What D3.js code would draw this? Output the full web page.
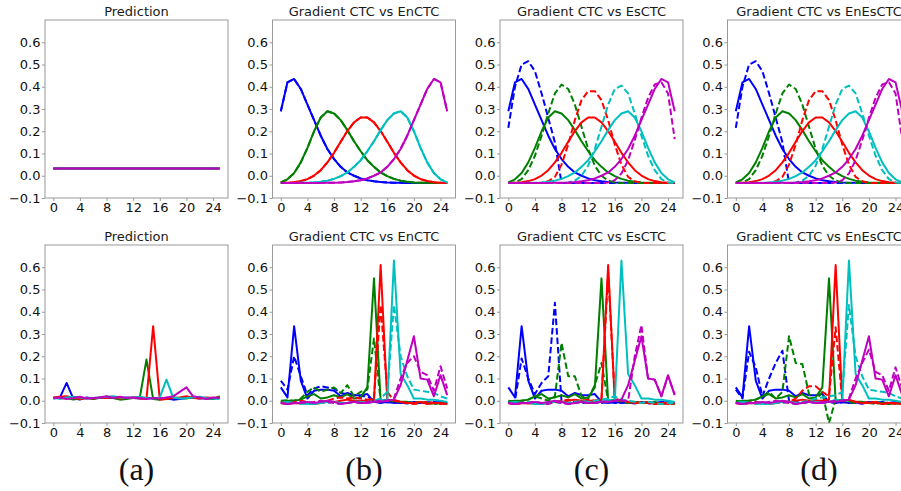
<!DOCTYPE html>
<html>
<head>
<meta charset="utf-8">
<script src="https://cdn.jsdelivr.net/npm/d3@7"></script>
<style>
  body { margin: 0; background: #fff; }
</style>
</head>
<body>
<script>
// time steps and series colours (order: blue, green, red, cyan, magenta)
var steps = [0, 1, 2, 3, 4, 5, 6, 7, 8, 9, 10, 11, 12, 13, 14, 15, 16, 17, 18, 19, 20, 21, 22, 23, 24, 25];
var colors = ['#0000ff', '#008000', '#ff0000', '#00bfbf', '#bf00bf'];
var titles = ['Prediction', 'Gradient CTC vs EnCTC', 'Gradient CTC vs EsCTC', 'Gradient CTC vs EnEsCTC'];
var captions = ['(a)', '(b)', '(c)', '(d)'];
var yTicks = [-0.1, 0, 0.1, 0.2, 0.3, 0.4, 0.5, 0.6];
var xTicks = [0, 4, 8, 12, 16, 20, 24];

// top row: uniform prediction
var topPredLevel = [0.033, 0.033, 0.033, 0.033, 0.033, 0.033, 0.033, 0.033, 0.033, 0.033, 0.033, 0.033, 0.033,
  0.033, 0.033, 0.033, 0.033, 0.033, 0.033, 0.033, 0.033, 0.033, 0.033, 0.033, 0.033, 0.033];

// top row: CTC gradient (solid, also equal to EnCTC)
var topCtc = [
  [0.29, 0.42, 0.435, 0.39, 0.32, 0.25, 0.18, 0.12, 0.075, 0.04, 0.015, 0.0, -0.012, -0.02, -0.025, -0.028, -0.03, -0.031, -0.032, -0.033, -0.033, -0.033, -0.033, -0.033, -0.033, -0.033],
  [-0.03, -0.016, 0.012, 0.06, 0.125, 0.2, 0.262, 0.29, 0.28, 0.25, 0.205, 0.155, 0.11, 0.07, 0.04, 0.015, -0.002, -0.014, -0.022, -0.027, -0.03, -0.031, -0.032, -0.033, -0.033, -0.033],
  [-0.033, -0.031, -0.029, -0.024, -0.015, 0.001, 0.025, 0.06, 0.103, 0.153, 0.201, 0.24, 0.262, 0.262, 0.24, 0.201, 0.153, 0.103, 0.06, 0.025, 0.001, -0.015, -0.024, -0.029, -0.031, -0.033],
  [-0.033, -0.033, -0.033, -0.032, -0.031, -0.03, -0.027, -0.022, -0.014, -0.002, 0.015, 0.04, 0.07, 0.11, 0.155, 0.205, 0.25, 0.28, 0.29, 0.262, 0.2, 0.125, 0.06, 0.012, -0.016, -0.03],
  [-0.033, -0.033, -0.033, -0.033, -0.033, -0.033, -0.033, -0.032, -0.031, -0.03, -0.028, -0.025, -0.02, -0.012, 0.0, 0.015, 0.04, 0.075, 0.12, 0.18, 0.25, 0.32, 0.39, 0.435, 0.42, 0.29]
];

// top row: EsCTC / EnEsCTC gradient (dashed)
var topEs = [
  [0.215, 0.4, 0.5, 0.515, 0.47, 0.37, 0.26, 0.15, -0.033, -0.033, -0.033, -0.033, -0.033, -0.033, -0.033, -0.033, -0.033, -0.033, -0.033, -0.033, -0.033, -0.033, -0.033, -0.033, -0.033, -0.033],
  [-0.033, -0.03, -0.015, 0.025, 0.09, 0.18, 0.28, 0.37, 0.41, 0.39, 0.32, 0.22, 0.12, 0.045, 0.0, -0.022, -0.03, -0.033, -0.033, -0.033, -0.033, -0.033, -0.033, -0.033, -0.033, -0.033],
  [-0.033, -0.033, -0.033, -0.033, -0.033, -0.032, -0.025, -0.005, 0.05, 0.14, 0.25, 0.34, 0.38, 0.38, 0.34, 0.25, 0.14, 0.05, -0.005, -0.025, -0.032, -0.033, -0.033, -0.033, -0.033, -0.033],
  [-0.033, -0.033, -0.033, -0.033, -0.033, -0.033, -0.033, -0.033, -0.033, -0.03, -0.022, 0.0, 0.045, 0.12, 0.22, 0.32, 0.39, 0.405, 0.37, 0.28, 0.18, 0.09, 0.025, -0.015, -0.03, -0.033],
  [-0.033, -0.033, -0.033, -0.033, -0.033, -0.033, -0.033, -0.033, -0.033, -0.033, -0.033, -0.033, -0.033, -0.033, -0.033, -0.03, -0.02, 0.01, 0.07, 0.16, 0.26, 0.35, 0.41, 0.42, 0.37, 0.165]
];

// bottom row: network prediction
var bottomPred = [
  [0.01, 0.015, 0.08, 0.01, 0.005, 0.015, 0.01, 0.012, 0.015, 0.012, 0.01, 0.015, 0.012, 0.01, 0.012, 0.01, 0.012, 0.01, 0.005, 0.008, 0.012, 0.015, 0.01, 0.012, 0.01, 0.012],
  [0.015, 0.01, 0.012, 0.005, 0.01, 0.012, 0.008, 0.015, 0.018, 0.012, 0.005, 0.008, 0.012, 0.015, 0.185, 0.008, 0.005, 0.01, 0.015, 0.012, 0.01, 0.018, 0.012, 0.01, 0.008, 0.02],
  [0.015, 0.018, 0.02, 0.012, 0.008, 0.012, 0.01, 0.015, 0.012, 0.018, 0.01, 0.012, 0.015, 0.01, 0.008, 0.335, 0.005, 0.008, 0.012, 0.015, 0.02, 0.012, 0.01, 0.015, 0.012, 0.015],
  [0.012, 0.01, 0.015, 0.018, 0.015, 0.01, 0.012, 0.015, 0.018, 0.02, 0.015, 0.012, 0.015, 0.018, 0.012, 0.01, 0.015, 0.095, 0.015, 0.01, 0.012, 0.015, 0.018, 0.012, 0.01, 0.008],
  [0.012, 0.015, 0.008, 0.012, 0.018, 0.01, 0.012, 0.015, 0.02, 0.012, 0.018, 0.012, 0.015, 0.012, 0.008, 0.012, 0.01, 0.015, 0.02, 0.04, 0.06, 0.02, 0.015, 0.008, 0.015, 0.012]
];

// bottom row: CTC gradient (solid)
var bottomCtc = [
  [0.06, 0.015, 0.335, 0.09, 0.01, 0.045, 0.05, 0.05, 0.045, 0.02, 0.035, 0.025, 0.025, 0.03, -0.005, -0.01, -0.005, -0.01, -0.008, -0.012, -0.005, -0.01, -0.008, -0.01, -0.005, -0.01],
  [-0.005, 0.0, 0.0, 0.005, 0.02, 0.03, 0.01, 0.015, 0.025, 0.015, 0.03, 0.01, 0.015, 0.06, 0.55, 0.0, 0.005, 0.0, -0.005, -0.005, -0.01, -0.005, -0.01, -0.012, -0.01, -0.015],
  [-0.01, -0.015, -0.01, -0.012, -0.01, -0.015, -0.01, -0.005, -0.005, 0.0, 0.005, 0.0, 0.0, 0.0, 0.005, 0.61, 0.0, 0.005, -0.005, -0.01, -0.01, -0.005, -0.015, -0.01, -0.01, -0.015],
  [-0.01, -0.005, -0.01, -0.01, -0.015, -0.015, -0.01, -0.005, -0.005, -0.01, -0.01, -0.005, -0.005, -0.01, -0.005, 0.005, 0.0, 0.63, 0.12, 0.07, 0.01, 0.01, 0.005, 0.005, 0.0, -0.005],
  [-0.01, -0.015, -0.01, -0.01, -0.005, -0.01, -0.005, 0.0, -0.005, -0.015, -0.01, -0.005, -0.01, -0.01, -0.005, -0.005, 0.0, 0.005, 0.07, 0.18, 0.29, 0.1, 0.095, 0.02, 0.115, 0.025]
];

// bottom row: EnCTC gradient (dashed)
var bottomEn = [
  [0.09, 0.05, 0.2, 0.11, 0.025, 0.055, 0.065, 0.06, 0.055, 0.035, 0.03, 0.025, 0.02, 0.02, 0.0, -0.005, -0.008, -0.005, -0.01, -0.008, -0.005, -0.01, -0.008, -0.005, -0.01, -0.008],
  [0.0, 0.002, 0.0, 0.01, 0.04, 0.06, 0.04, 0.05, 0.06, 0.035, 0.07, 0.02, 0.04, 0.05, 0.28, 0.0, 0.005, -0.005, -0.005, -0.01, -0.01, -0.005, -0.01, -0.015, -0.01, -0.015],
  [-0.005, -0.01, -0.005, 0.0, -0.005, -0.01, -0.005, 0.0, 0.01, 0.015, 0.01, 0.015, 0.01, 0.005, 0.01, 0.43, 0.04, 0.0, -0.005, -0.01, -0.015, -0.01, -0.005, -0.01, -0.015, -0.01],
  [-0.01, -0.005, -0.01, -0.015, -0.01, -0.01, -0.005, -0.01, -0.005, -0.01, -0.01, -0.005, -0.01, -0.005, 0.0, 0.01, 0.04, 0.43, 0.2, 0.11, 0.05, 0.045, 0.04, 0.035, 0.02, 0.01],
  [-0.01, -0.015, -0.01, -0.005, -0.01, -0.005, 0.0, -0.005, -0.01, -0.015, -0.01, -0.005, -0.01, -0.005, -0.005, 0.0, 0.0, 0.01, 0.1, 0.17, 0.2, 0.13, 0.115, 0.045, 0.155, 0.055]
];

// bottom row: EsCTC gradient (dashed)
var bottomEs = [
  [-0.005, 0.0, 0.19, 0.1, 0.03, 0.08, 0.11, 0.44, -0.005, -0.01, -0.005, -0.01, -0.008, -0.005, -0.01, -0.005, -0.01, -0.008, -0.005, -0.01, -0.008, -0.012, -0.01, -0.005, -0.01, -0.008],
  [0.0, -0.005, 0.0, 0.005, 0.02, 0.01, 0.0, 0.02, 0.26, 0.11, 0.11, 0.02, 0.01, 0.07, 0.17, 0.0, 0.005, -0.005, -0.01, -0.005, -0.01, -0.01, -0.005, -0.015, -0.01, -0.015],
  [-0.01, -0.015, -0.01, -0.005, -0.01, -0.015, -0.01, -0.005, 0.0, 0.005, -0.005, 0.0, 0.005, 0.0, 0.005, 0.58, 0.01, 0.0, -0.005, -0.01, -0.005, -0.01, -0.015, -0.01, -0.015, -0.01],
  [-0.01, -0.005, -0.01, -0.005, -0.01, -0.015, -0.01, -0.005, -0.01, -0.01, -0.005, 0.0, -0.005, 0.0, 0.005, 0.01, 0.02, 0.005, 0.0, -0.005, -0.01, -0.005, -0.01, -0.015, -0.01, -0.01],
  [-0.01, -0.015, -0.01, -0.01, -0.005, -0.01, -0.015, -0.005, -0.01, -0.015, -0.01, -0.005, -0.01, -0.01, -0.005, -0.005, 0.0, 0.0, 0.0, 0.2, 0.34, 0.1, 0.095, 0.02, 0.11, 0.03]
];

// bottom row: EnEsCTC gradient (dashed)
var bottomEnEs = [
  [0.05, 0.01, 0.22, 0.15, 0.02, 0.1, 0.17, 0.225, 0.0, -0.005, -0.01, -0.005, -0.008, -0.01, -0.005, -0.01, -0.008, -0.005, -0.01, -0.012, -0.008, -0.01, -0.005, -0.01, -0.008, -0.01],
  [0.0, -0.005, 0.0, 0.005, 0.02, 0.04, 0.01, 0.04, 0.29, 0.17, 0.165, 0.03, 0.0, 0.04, -0.1, 0.005, 0.0, -0.005, -0.01, -0.005, -0.01, -0.015, -0.01, -0.015, -0.01, -0.015],
  [-0.01, -0.015, -0.01, -0.005, -0.01, -0.015, -0.01, -0.005, -0.005, 0.01, 0.045, 0.065, 0.065, 0.04, 0.02, 0.33, 0.0, 0.005, -0.005, -0.01, -0.005, -0.01, -0.015, -0.01, -0.015, -0.01],
  [-0.01, -0.005, -0.01, -0.015, -0.01, -0.01, -0.005, -0.01, -0.005, -0.01, -0.005, 0.0, 0.01, 0.015, 0.02, 0.025, 0.04, 0.43, 0.2, 0.11, 0.05, 0.045, 0.04, 0.035, 0.02, 0.01],
  [-0.01, -0.015, -0.01, -0.005, -0.01, -0.005, 0.0, -0.005, -0.01, -0.015, -0.01, -0.005, -0.01, -0.005, -0.005, 0.0, 0.0, 0.01, 0.1, 0.17, 0.23, 0.13, 0.115, 0.045, 0.15, 0.055]
];

var topPred = [topPredLevel, topPredLevel, topPredLevel, topPredLevel, topPredLevel];

var panels = [
  { row: 0, col: 0, solid: topPred, dashed: null },
  { row: 0, col: 1, solid: topCtc, dashed: topCtc },
  { row: 0, col: 2, solid: topCtc, dashed: topEs },
  { row: 0, col: 3, solid: topCtc, dashed: topEs },
  { row: 1, col: 0, solid: bottomPred, dashed: null },
  { row: 1, col: 1, solid: bottomCtc, dashed: bottomEn },
  { row: 1, col: 2, solid: bottomCtc, dashed: bottomEs },
  { row: 1, col: 3, solid: bottomCtc, dashed: bottomEnEs }
];

var W = 901, H = 491;
var lefts = [45, 272.5, 500, 727.5];
var tops = [20, 245];
var pw = 183, ph = 178;
var sans = '"DejaVu Sans", sans-serif';

var svg = d3.select('body').append('svg').attr('width', W).attr('height', H);

var x = d3.scaleLinear().domain([-1.25, 26.25]).range([0, pw]);
var y = d3.scaleLinear().domain([-0.1, 0.7]).range([ph, 0]);

var line = d3.line()
  .x(function(d, i) { return x(steps[i]); })
  .y(function(d) { return y(d); });

panels.forEach(function(p, k) {
  var g = svg.append('g')
    .attr('transform', 'translate(' + lefts[p.col] + ',' + tops[p.row] + ')');

  g.append('clipPath').attr('id', 'clip' + k)
    .append('rect').attr('width', pw).attr('height', ph);

  var plot = g.append('g').attr('clip-path', 'url(#clip' + k + ')');

  colors.forEach(function(c, i) {
    plot.append('path')
      .attr('d', line(p.solid[i]))
      .attr('fill', 'none')
      .attr('stroke', c)
      .attr('stroke-width', 2)
      .attr('stroke-linejoin', 'round');
    if (p.dashed) {
      plot.append('path')
        .attr('d', line(p.dashed[i]))
        .attr('fill', 'none')
        .attr('stroke', c)
        .attr('stroke-width', 2)
        .attr('stroke-dasharray', '6.5,3')
        .attr('stroke-linejoin', 'round');
    }
  });

  var yAxis = g.append('g').call(
    d3.axisLeft(y).tickValues(yTicks).tickFormat(d3.format('.1f')).tickSize(3).tickPadding(1.5)
  );
  var xAxis = g.append('g').attr('transform', 'translate(0,' + ph + ')').call(
    d3.axisBottom(x).tickValues(xTicks).tickSize(3).tickPadding(2)
  );
  [yAxis, xAxis].forEach(function(a) {
    a.attr('font-family', null).attr('font-size', null);
    a.select('.domain').remove();
    a.selectAll('line').attr('stroke', '#999');
    a.selectAll('text').style('font-size', '13px').style('font-family', sans).attr('fill', '#111');
  });

  g.append('rect')
    .attr('width', pw).attr('height', ph)
    .attr('fill', 'none').attr('stroke', '#999').attr('stroke-width', 1);

  g.append('text')
    .attr('x', pw / 2).attr('y', -4)
    .attr('text-anchor', 'middle')
    .style('font-family', sans).style('font-size', '13px')
    .attr('fill', '#1a1a1a')
    .text(titles[p.col]);
});

captions.forEach(function(c, i) {
  svg.append('text')
    .attr('x', lefts[i] + pw / 2).attr('y', 480)
    .attr('text-anchor', 'middle')
    .style('font-family', '"Liberation Serif", "Times New Roman", serif')
    .style('font-size', '32px')
    .attr('fill', '#111')
    .text(c);
});
</script>
</body>
</html>
